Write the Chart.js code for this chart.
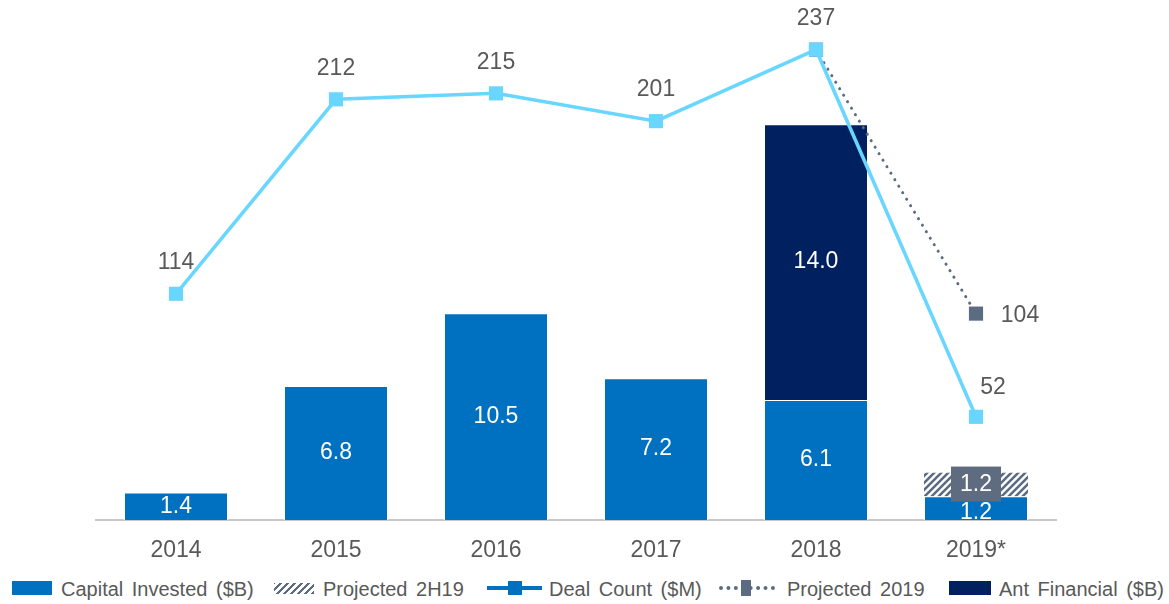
<!DOCTYPE html>
<html>
<head>
<meta charset="utf-8">
<script src="https://cdn.jsdelivr.net/npm/chart.js@4.4.1/dist/chart.umd.min.js"></script>
<style>
  body { margin: 0; background: #fff; font-family: "Liberation Sans", Arial, sans-serif; }
  #wrap { position: relative; width: 1169px; height: 604px; }
  .ico { position: absolute; }
  .txt { position: absolute; top: 577px; font-size: 20px; color: #595959; white-space: nowrap; word-spacing: 3px; line-height: 24px; }
</style>
</head>
<body>
<div id="wrap">
  <canvas id="myChart" width="1169" height="570"></canvas>
  <!-- legend -->
  <div class="ico" style="left:12px;top:581px;width:40px;height:14px;background:#0070C0"></div>
  <div class="txt" style="left:61px">Capital Invested ($B)</div>
  <div class="ico" style="left:274px;top:583px;width:40px;height:11px;background:repeating-linear-gradient(-45deg,#5B6B82 0 2.5px,#fff 2.5px 5px)"></div>
  <div class="txt" style="left:323px">Projected 2H19</div>
  <div class="ico" style="left:487px;top:586px;width:55px;height:4px;background:#0070C0"></div>
  <div class="ico" style="left:508px;top:581px;width:14px;height:14px;background:#0070C0"></div>
  <div class="txt" style="left:549px">Deal Count ($M)</div>
  <div class="ico" style="left:719px;top:586px;width:56px;height:0;border-top:4px dotted #5B6B82"></div>
  <div class="ico" style="left:741px;top:580px;width:10px;height:16px;background:#5B6B82"></div>
  <div class="txt" style="left:787px">Projected 2019</div>
  <div class="ico" style="left:949px;top:581px;width:42px;height:14px;background:#002060"></div>
  <div class="txt" style="left:999px">Ant Financial ($B)</div>
</div>
<script>
const years = ['2014', '2015', '2016', '2017', '2018', '2019*'];
const capitalInvested = [1.4, 6.8, 10.5, 7.2, 6.1, 1.2];
const projected2H19 = [null, null, null, null, null, 1.2];
const antFinancial = [null, null, null, null, 14.0, null];
const dealCount = [114, 212, 215, 201, 237, 52];
const projected2019 = [null, null, null, null, 237, 104];

// hatch pattern for projected bar
function makeHatch() {
    const c = document.createElement('canvas');
    c.width = 7; c.height = 7;
    const g = c.getContext('2d');
    g.fillStyle = '#fff';
    g.fillRect(0, 0, 7, 7);
    g.strokeStyle = '#5B6B82';
    g.lineWidth = 2.5;
    g.beginPath();
    g.moveTo(-1, 8); g.lineTo(8, -1);
    g.moveTo(-4, 4); g.lineTo(4, -4);
    g.moveTo(3, 11); g.lineTo(11, 3);
    g.stroke();
    return g.createPattern(c, 'repeat');
}

const labelFont = '23px "Liberation Sans", Arial, sans-serif';

const valueLabels = {
    id: 'valueLabels',
    afterDatasetsDraw(chart) {
        const ctx = chart.ctx;
        ctx.save();
        ctx.font = labelFont;
        ctx.textAlign = 'center';
        ctx.textBaseline = 'middle';

        // bars: capital + ant
        [0, 2].forEach(di => {
            const meta = chart.getDatasetMeta(di);
            meta.data.forEach((el, i) => {
                const v = chart.data.datasets[di].data[i];
                if (v == null) return;
                let y = (el.y + el.base) / 2;
                if (di === 0 && i === 5) y += 4;
                ctx.fillStyle = '#fff';
                ctx.fillText(v.toFixed(1), el.x, y);
            });
        });

        // projected 2H19 label in grey box
        const pm = chart.getDatasetMeta(1);
        pm.data.forEach((el, i) => {
            const v = projected2H19[i];
            if (v == null) return;
            const y = (el.y + el.base) / 2;
            ctx.fillStyle = '#5F6B7F';
            ctx.fillRect(el.x - 25, y - 18, 50, 35);
            ctx.fillStyle = '#fff';
            ctx.fillText(v.toFixed(1), el.x, y);
        });

        // deal count labels
        ctx.fillStyle = '#595959';
        chart.getDatasetMeta(3).data.forEach((el, i) => {
            let dx = 0, dy = -31;
            if (i === 5) { dx = 17; dy = -29; }
            ctx.fillText(String(dealCount[i]), el.x + dx, el.y + dy);
        });

        // projected 2019 label
        const el = chart.getDatasetMeta(4).data[5];
        ctx.fillText(String(projected2019[5]), el.x + 44, el.y + 2);
        ctx.restore();
    }
};

const ctx = document.getElementById('myChart').getContext('2d');
new Chart(ctx, {
    type: 'bar',
    data: {
        labels: years,
        datasets: [
            {
                label: 'Capital Invested ($B)',
                data: capitalInvested,
                backgroundColor: '#0070C0',
                borderColor: '#ffffff',
                borderWidth: 1,
                stack: 'a',
                order: 2,
                yAxisID: 'y'
            },
            {
                label: 'Projected 2H19',
                data: projected2H19,
                backgroundColor: makeHatch(),
                borderWidth: 0,
                stack: 'a',
                order: 2,
                yAxisID: 'y'
            },
            {
                label: 'Ant Financial ($B)',
                data: antFinancial,
                backgroundColor: '#002060',
                borderColor: '#ffffff',
                borderWidth: 1,
                stack: 'a',
                order: 2,
                yAxisID: 'y'
            },
            {
                type: 'line',
                label: 'Deal Count ($M)',
                data: dealCount,
                borderColor: '#68D6FF',
                backgroundColor: '#68D6FF',
                borderWidth: 3.5,
                pointStyle: 'rect',
                pointRadius: 10,
                pointBorderWidth: 0,
                tension: 0,
                order: 0,
                yAxisID: 'y2'
            },
            {
                type: 'line',
                label: 'Projected 2019',
                data: projected2019,
                borderColor: '#5B6B82',
                backgroundColor: '#5B6B82',
                borderWidth: 3,
                borderDash: [0.1, 7.5],
                borderCapStyle: 'round',
                pointStyle: 'rect',
                pointRadius: 10,
                pointBorderWidth: 0,
                tension: 0,
                order: 1,
                yAxisID: 'y2'
            }
        ]
    },
    options: {
        responsive: false,
        animation: false,
        devicePixelRatio: 1,
        layout: { padding: { left: 96, right: 113, top: 2, bottom: 0 } },
        datasets: { bar: { categoryPercentage: 1, barPercentage: 0.65 } },
        plugins: {
            legend: { display: false },
            tooltip: { enabled: false }
        },
        scales: {
            x: {
                grid: { display: false },
                border: { color: '#c8c8c8', width: 2 },
                ticks: {
                    color: '#595959',
                    font: { family: '"Liberation Sans", Arial, sans-serif', size: 23 },
                    padding: 9
                },
                afterFit(scale) { scale.height = 50; }
            },
            y: { display: false, stacked: true, min: 0, max: 25.9 },
            y2: { display: false, min: 0, max: 257 }
        }
    },
    plugins: [valueLabels]
});
</script>
</body>
</html>
